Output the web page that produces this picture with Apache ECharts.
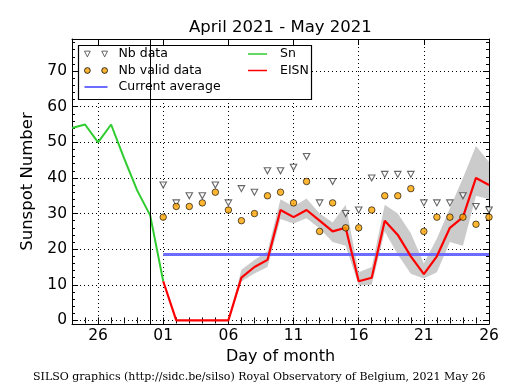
<!DOCTYPE html>
<html>
<head>
<meta charset="utf-8">
<script src="https://cdn.jsdelivr.net/npm/echarts@6/dist/echarts.min.js"></script>
<style>
html,body{margin:0;padding:0;background:#fff;}
#chart{width:515px;height:390px;}
</style>
</head>
<body>
<div id="chart"></div>
<script>
// ---- data ----
const dates = [
  '2021-04-24','2021-04-25','2021-04-26','2021-04-27','2021-04-28','2021-04-29','2021-04-30',
  '2021-05-01','2021-05-02','2021-05-03','2021-05-04','2021-05-05','2021-05-06','2021-05-07',
  '2021-05-08','2021-05-09','2021-05-10','2021-05-11','2021-05-12','2021-05-13','2021-05-14',
  '2021-05-15','2021-05-16','2021-05-17','2021-05-18','2021-05-19','2021-05-20','2021-05-21',
  '2021-05-22','2021-05-23','2021-05-24','2021-05-25','2021-05-26'
];
const tickDates = ['2021-04-26','2021-05-01','2021-05-06','2021-05-11','2021-05-16','2021-05-21','2021-05-26'];
const monthBoundary = '2021-04-30';

// Sn: 2021-04-24 .. 2021-05-01
const snDates = dates.slice(0, 8);
const snValues = [54, 55, 50, 55, 45.5, 36.5, 29.5, 11];

// EISN, Nb data, Nb valid data: 2021-05-01 .. 2021-05-26
const eisnDates = dates.slice(7);
const eisnValues = [11, 0, 0, 0, 0, 0, 12, 15, 17, 31, 29, 31, 28, 25, 26, 11, 12, 28, 24, 18, 13, 18, 26, 29, 40, 38];
const nbData     = [38, 33, 35, 35, 38, 33, 37, 36, 42, 42, 43, 46, 33, 39, 30, 31, 40, 41, 41, 41, 33, 33, 33, 35, 32, 31];
const nbValid    = [29, 32, 32, 33, 36, 31, 28, 30, 35, 36, 33, 39, 25, 33, 26, 26, 31, 35, 35, 37, 25, 29, 29, 29, 27, 29];

// EISN error band: 2021-05-06 .. 2021-05-26
const bandDates = dates.slice(12);
const bandLower = [0, 10.9, 13.2, 15, 28.5, 27.2, 28.7, 25.8, 22, 21, 9.9, 10, 25, 18.5, 13.1, 11.8, 13.5, 22, 21, 35, 34];
const bandUpper = [0, 14.2, 17, 19.4, 34, 32, 34.2, 30, 27.5, 32.5, 13.5, 15, 32.5, 30, 24.5, 16, 23, 31.5, 40, 49, 44.5];

// Current average over 2021-05-01 .. 2021-05-26
const averageDates = ['2021-05-01', '2021-05-26'];
const currentAverage = 18.5;

// ---- chart ----
const pairs = (xs, ys) => xs.map((x, i) => [x, ys[i]]);
const isMajor = (i, v) => tickDates.indexOf(v) >= 0;
const FONT = 'DejaVu Sans';

const baseX = {
  type: 'category', data: dates, boundaryGap: false, gridIndex: 0,
  axisLine: { show: false }, axisLabel: { show: false }, splitLine: { show: false },
  axisPointer: { show: false }
};
const majorTick = { show: true, inside: true, length: 6, interval: isMajor, lineStyle: { color: '#000', width: 1 } };
const minorTickCat = { show: true, inside: true, length: 3, interval: 0, lineStyle: { color: '#000', width: 1 } };

const chart = echarts.init(document.getElementById('chart'), null, { renderer: 'canvas' });
chart.setOption({
  animation: false,
  backgroundColor: '#fff',
  title: [
    { text: 'April 2021 - May 2021', left: 189, top: 19.5, padding: 0,
      textStyle: { fontFamily: FONT, fontSize: 16.5, fontWeight: 'normal', color: '#000' } },
    { text: 'SILSO graphics (http://sidc.be/silso) Royal Observatory of Belgium, 2021 May 26',
      left: 33, top: 372, padding: 0,
      textStyle: { fontFamily: 'DejaVu Serif', fontSize: 11, fontWeight: 'normal', color: '#000' } }
  ],
  grid: { left: 72, right: 26, top: 39, bottom: 66, outerBoundsMode: 'none', containLabel: false },
  xAxis: [
    Object.assign({}, baseX, {
      position: 'bottom',
      axisLine: { show: true, onZero: false, lineStyle: { color: '#000', width: 1 } },
      axisTick: majorTick,
      axisLabel: { show: true, interval: isMajor, formatter: v => v.slice(8), margin: 4,
        fontFamily: FONT, fontSize: 15.5, color: '#000' },
      splitLine: { show: true, interval: isMajor, lineStyle: { color: '#000', width: 1, type: [1, 3] } },
      name: 'Day of month', nameLocation: 'middle', nameGap: 24,
      nameTextStyle: { fontFamily: FONT, fontSize: 16, color: '#000' }
    }),
    Object.assign({}, baseX, { position: 'bottom', axisTick: minorTickCat }),
    Object.assign({}, baseX, {
      position: 'top',
      axisLine: { show: true, onZero: false, lineStyle: { color: '#000', width: 1 } },
      axisTick: majorTick
    }),
    Object.assign({}, baseX, { position: 'top', axisTick: minorTickCat })
  ],
  yAxis: [
    {
      type: 'value', min: -1, max: 79, splitNumber: 8, position: 'left',
      axisLine: { show: true, onZero: false, lineStyle: { color: '#000', width: 1 } },
      axisTick: { show: true, inside: true, length: 6, lineStyle: { color: '#000' } },
      minorTick: { show: true, splitNumber: 5, length: 3, lineStyle: { color: '#000' } },
      axisLabel: { showMinLabel: false, showMaxLabel: false, margin: 5,
        fontFamily: FONT, fontSize: 15.5, color: '#000' },
      splitLine: { show: true, lineStyle: { color: '#000', width: 1, type: [1, 3] } },
      name: 'Sunspot Number', nameLocation: 'middle', nameGap: 34, nameRotate: 90,
      nameTextStyle: { fontFamily: FONT, fontSize: 16.5, color: '#000' }
    },
    {
      type: 'value', min: -1, max: 79, splitNumber: 8, position: 'right',
      axisLine: { show: true, onZero: false, lineStyle: { color: '#000', width: 1 } },
      axisTick: { show: true, inside: true, length: 6, lineStyle: { color: '#000' } },
      minorTick: { show: true, splitNumber: 5, length: 3, lineStyle: { color: '#000' } },
      axisLabel: { show: false },
      splitLine: { show: false }
    }
  ],
  legend: [
    {
      orient: 'vertical', left: 84, top: 46, padding: 0, itemGap: 0.5,
      itemWidth: 23, itemHeight: 8, selectedMode: false, z: 6,
      itemStyle: { borderWidth: 1 },
      textStyle: { fontFamily: FONT, fontSize: 12.5, color: '#000', lineHeight: 16, padding: [0, 0, 0, 6] },
      data: [
        { name: 'Nb data', icon: 'path://M0 0 L6 0 L3 6 Z M18 0 L24 0 L21 6 Z' },
        { name: 'Nb valid data', icon: 'path://M0 3 A3 3 0 1 1 6 3 A3 3 0 1 1 0 3 Z M18 3 A3 3 0 1 1 24 3 A3 3 0 1 1 18 3 Z' },
        { name: 'Current average', icon: 'path://M0 0 H23 V2 H0 Z' }
      ]
    },
    {
      orient: 'vertical', left: 248, top: 46, padding: 0, itemGap: 0.5,
      itemWidth: 19, itemHeight: 8, selectedMode: false, z: 6,
      itemStyle: { borderWidth: 1 },
      textStyle: { fontFamily: FONT, fontSize: 12.5, color: '#000', lineHeight: 16, padding: [0, 0, 0, 8] },
      data: [
        { name: 'Sn', icon: 'path://M0 0 H19 V1.5 H0 Z' },
        { name: 'EISN', icon: 'path://M0 0 H19 V1.5 H0 Z' }
      ]
    }
  ],
  graphic: [
    { type: 'rect', z: 5, silent: true,
      shape: { x: 78.5, y: 45.5, width: 233, height: 54 },
      style: { fill: '#fff', stroke: '#000', lineWidth: 1.2 } }
  ],
  series: [
    { name: 'bandBase', type: 'line', stack: 'band', z: 1, silent: true,
      data: pairs(bandDates, bandLower), symbol: 'none',
      lineStyle: { width: 0, opacity: 0 } },
    { name: 'bandSpan', type: 'line', stack: 'band', z: 1, silent: true,
      data: pairs(bandDates, bandUpper.map((u, i) => u - bandLower[i])), symbol: 'none',
      lineStyle: { width: 0, opacity: 0 },
      areaStyle: { color: '#cbcbcb', opacity: 1 } },
    { name: 'Current average', type: 'line', z: 2, silent: true,
      data: averageDates.map(d => [d, currentAverage]), symbol: 'none',
      color: '#6c6cff', lineStyle: { color: '#6c6cff', width: 3 } },
    { name: 'Sn', type: 'line', z: 3, silent: true,
      data: pairs(snDates, snValues), symbol: 'none',
      color: '#2fcc2f', lineStyle: { color: '#2fcc2f', width: 2 },
      markLine: { silent: true, symbol: ['none', 'none'], label: { show: false },
        lineStyle: { color: '#000', width: 1, type: 'solid' },
        emphasis: { disabled: true },
        data: [{ xAxis: monthBoundary }] } },
    { name: 'EISN', type: 'line', z: 3, silent: true,
      data: pairs(eisnDates, eisnValues), symbol: 'none',
      color: '#ff0000', lineStyle: { color: '#ff0000', width: 2.2 } },
    { name: 'Nb data', type: 'scatter', z: 4, silent: true,
      data: pairs(eisnDates, nbData), symbol: 'triangle', symbolRotate: 180, symbolSize: [6.5, 6],
      itemStyle: { color: '#ffffff', borderColor: '#404040', borderWidth: 1.1 } },
    { name: 'Nb valid data', type: 'scatter', z: 4, silent: true,
      data: pairs(eisnDates, nbValid), symbol: 'circle', symbolSize: 6.5,
      itemStyle: { color: '#ffa500', borderColor: '#000000', borderWidth: 0.8 } }
  ]
});
</script>
</body>
</html>
